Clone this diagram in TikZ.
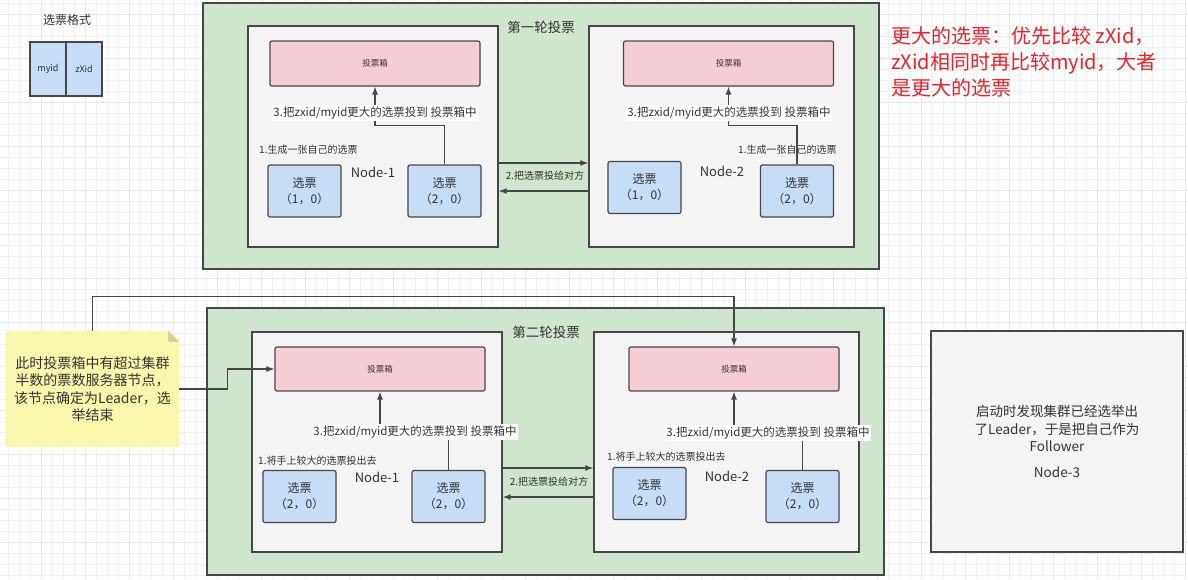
\documentclass[tikz,border=0pt]{standalone}
\usepackage{fontspec}
\setmainfont{Noto Sans CJK SC}
\usetikzlibrary{arrows.meta,positioning,calc,backgrounds}
\definecolor{linec}{HTML}{474747}
\definecolor{textc}{HTML}{333333}
\definecolor{roundc}{HTML}{D0E5CD}
\definecolor{hostc}{HTML}{F4F4F4}
\definecolor{boxc}{HTML}{F6CDD4}
\definecolor{ticketc}{HTML}{C6DDF5}
\definecolor{notec}{HTML}{F9F7AB}
\definecolor{foldc}{HTML}{D6D38A}
\definecolor{redc}{HTML}{EC2229}
\tikzset{
  roundbox/.style={draw=linec,fill=roundc,line width=1.3pt,minimum width=676pt,minimum height=266pt,inner sep=0pt},
  hostbox/.style={draw=linec,fill=hostc,line width=1.3pt,minimum width=265pt,minimum height=221pt,inner sep=0pt},
  box/.style={draw=linec,fill=boxc,line width=1.2pt,rounded corners=2pt,minimum width=210pt,minimum height=45pt,inner sep=0pt,font=\fontsize{8.5}{10}\selectfont},
  ticket/.style={draw=linec,fill=ticketc,line width=1.2pt,rounded corners=2pt,minimum width=73pt,minimum height=52pt,inner sep=0pt,align=center,font=\fontsize{12}{16}\selectfont},
  field/.style={draw=linec,fill=ticketc,line width=1.2pt,minimum width=36pt,minimum height=54pt,inner sep=0pt,font=\fontsize{9}{11}\selectfont},
  nodename/.style={font=\fontsize{13}{15}\selectfont,inner sep=0pt},
  title/.style={font=\fontsize{13.5}{16}\selectfont,inner sep=0pt},
  hint/.style={font=\fontsize{10}{12}\selectfont,inner sep=0pt},
  lbl/.style={font=\fontsize{11.5}{13}\selectfont,fill=white,inner sep=1.5pt},
  arr/.style={-{Latex[length=8pt,width=6pt]},line width=1.2pt,draw=linec},
  gridminor/.style={draw=black!5,line width=0.8pt},
  gridmajor/.style={draw=black!9,line width=0.8pt}
}
\begin{document}
\begin{tikzpicture}[x=1pt,y=-1pt,every node/.append style={text=textc}]
\useasboundingbox (0,0) rectangle (1188,579);
\begin{scope}[on background layer]
\fill[white] (0,0) rectangle (1188,579);
\foreach \i in {0,...,107} \draw[gridminor] ({8+11*\i},0) -- ({8+11*\i},579);
\foreach \j in {0,...,52} \draw[gridminor] (0,{3+11*\j}) -- (1188,{3+11*\j});
\foreach \i in {0,...,26} \draw[gridmajor] ({41+44*\i},0) -- ({41+44*\i},579);
\foreach \j in {0,...,12} \draw[gridmajor] (0,{14+44*\j}) -- (1188,{14+44*\j});
\end{scope}

% ballot format
\node[font=\fontsize{12}{14}\selectfont] (fmt) at (67,20) {选票格式};
\node[field] (myid) at (48,69) {myid};
\node[field] (zxid) at (84,69) {zXid};

% first round
\node[roundbox] (r1) at (541,136) {};
\node[title] (r1t) at (541,27) {第一轮投票};
\node[hostbox,minimum width=250pt] (h11) at (373,136.5) {};
\node[hostbox] (h12) at (721.5,136.5) {};
\node[box] (b11) at (375,63.5) {投票箱};
\node[box] (b12) at (728.5,63.5) {投票箱};
\node[ticket] (t111) at (304.5,191) {选票\\（1，0）};
\node[ticket] (t112) at (444.5,191) {选票\\（2，0）};
\node[ticket] (t121) at (644.5,187.5) {选票\\（1，0）};
\node[ticket] (t122) at (797,191) {选票\\（2，0）};
\node[nodename] (n11) at (373,172) {Node-1};
\node[nodename] (n12) at (722,171) {Node-2};
\node[hint,anchor=west] (s11) at (259,150) {1.生成一张自己的选票};
\node[hint,anchor=west] (s12) at (738,150) {1.生成一张自己的选票};
\draw[arr] (t112.north) -- ++(0,-39) -| (b11.south);
\draw[arr] (t122.north) -- ++(0,-39) -| (b12.south);
\node[lbl] (p11) at (375,113) {3.把zxid/myid更大的选票投到 投票箱中};
\node[lbl] (p12) at (729,113) {3.把zxid/myid更大的选票投到 投票箱中};
\draw[arr] ($(h11.east)+(0,26.5)$) -- ($(h12.west)+(0,26.5)$);
\draw[arr] ($(h12.west)+(0,54.5)$) -- ($(h11.east)+(0,54.5)$);
\node[hint] (x1) at (545,176) {2.把选票投给对方};

% second round
\node[roundbox,minimum width=677pt,minimum height=267pt] (r2) at (545.5,441.5) {};
\node[title] (r2t) at (546,332) {第二轮投票};
\node[hostbox,minimum width=250pt,minimum height=220pt] (h21) at (377,442) {};
\node[hostbox,minimum height=220pt] (h22) at (726.5,442) {};
\node[box,minimum height=44pt] (b21) at (380,369) {投票箱};
\node[box,minimum height=44pt] (b22) at (734,369) {投票箱};
\node[ticket] (t211) at (299.5,496.5) {选票\\（2，0）};
\node[ticket] (t212) at (448.5,496.5) {选票\\（2，0）};
\node[ticket] (t221) at (649.5,493.5) {选票\\（2，0）};
\node[ticket] (t222) at (802.5,496.5) {选票\\（2，0）};
\node[nodename] (n21) at (377,477) {Node-1};
\node[nodename] (n22) at (727,476) {Node-2};
\node[hint,anchor=west] (s21) at (258,461) {1.将手上较大的选票投出去};
\node[hint,anchor=west] (s22) at (607,457) {1.将手上较大的选票投出去};
\draw[arr] (t212.north) -- ++(0,-39) -| (b21.south);
\draw[arr] (t222.north) -- ++(0,-39) -| (b22.south);
\node[lbl] (p21) at (415,432) {3.把zxid/myid更大的选票投到 投票箱中};
\node[lbl] (p22) at (768,433) {3.把zxid/myid更大的选票投到 投票箱中};
\draw[arr] ($(h21.east)+(0,26)$) -- ($(h22.west)+(0,26)$);
\draw[arr] ($(h22.west)+(0,55)$) -- ($(h21.east)+(0,55)$);
\node[hint] (x2) at (549,482) {2.把选票投给对方};

% leader note
\node[align=center,font=\fontsize{14}{17.5}\selectfont,minimum width=173pt,minimum height=116pt,inner sep=0pt] (memo) at (92.5,389) {此时投票箱中有超过集群\\半数的票数服务器节点，\\该节点确定为Leader，选\\举结束};
\begin{scope}[on background layer]
\fill[notec] (memo.south west) -- (memo.north west) -- ($(memo.north east)+(-11,0)$) -- ($(memo.north east)+(0,11)$) -- (memo.south east) -- cycle;
\fill[foldc] ($(memo.north east)+(-11,0)$) -- ($(memo.north east)+(0,11)$) -- ($(memo.north east)+(-11,11)$) -- cycle;
\end{scope}
\draw[arr] (memo.east) -- ++(48,0) |- (b21.west);
\draw[arr] (memo.north) -- ++(0,-34) -| (b22.north);

% third server
\node[hostbox,minimum width=252pt,minimum height=221pt,align=center,font=\fontsize{13.5}{17.5}\selectfont] (n3) at (1057,441.5) {启动时发现集群已经选举出\\了Leader，于是把自己作为\\Follower\\[8pt]Node-3};

% rule
\node[anchor=west,align=left,text=redc,font=\fontsize{20}{26}\selectfont,inner sep=0pt] (rule) at (891,62) {更大的选票：优先比较 zXid，\\zXid相同时再比较myid，大者\\是更大的选票};
\end{tikzpicture}
\end{document}
